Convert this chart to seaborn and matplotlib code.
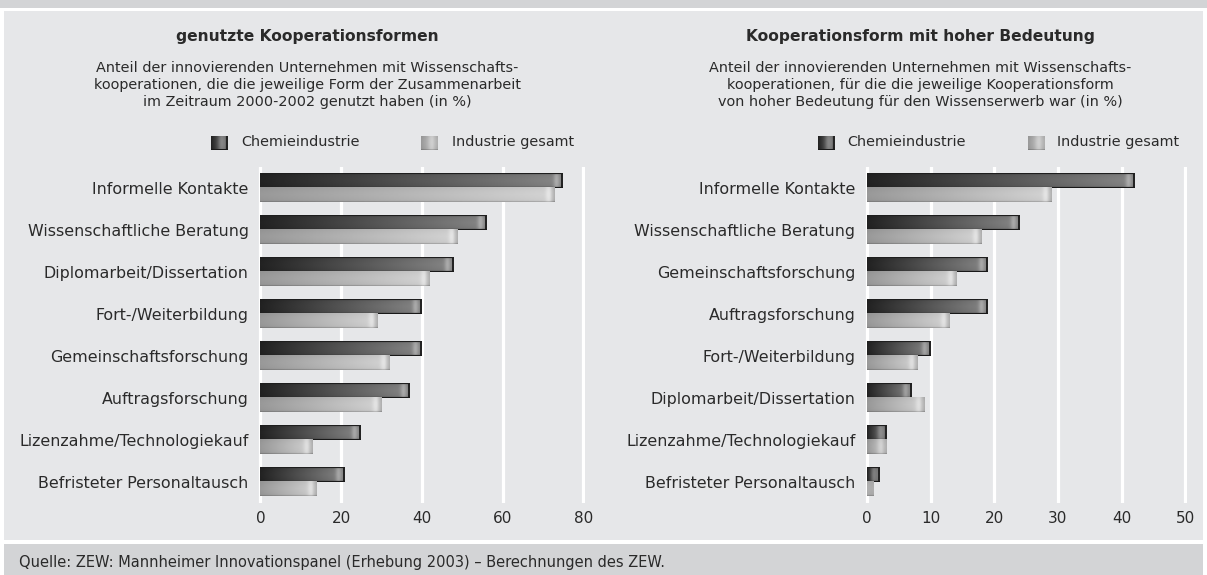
import numpy as np
import pandas as pd
import matplotlib
matplotlib.use("Agg")
import matplotlib.pyplot as plt
import seaborn as sns
from matplotlib.patches import Rectangle

# ---------------- data ----------------
series = ["Chemieindustrie", "Industrie gesamt"]

left_categories = [
    "Informelle Kontakte",
    "Wissenschaftliche Beratung",
    "Diplomarbeit/Dissertation",
    "Fort-/Weiterbildung",
    "Gemeinschaftsforschung",
    "Auftragsforschung",
    "Lizenzahme/Technologiekauf",
    "Befristeter Personaltausch",
]
left_chemie = [75, 56, 48, 40, 40, 37, 25, 21]
left_gesamt = [73, 49, 42, 29, 32, 30, 13, 14]
left_ticks = [0, 20, 40, 60, 80]

right_categories = [
    "Informelle Kontakte",
    "Wissenschaftliche Beratung",
    "Gemeinschaftsforschung",
    "Auftragsforschung",
    "Fort-/Weiterbildung",
    "Diplomarbeit/Dissertation",
    "Lizenzahme/Technologiekauf",
    "Befristeter Personaltausch",
]
right_chemie = [42, 24, 19, 19, 10, 7, 3, 2]
right_gesamt = [29, 18, 14, 13, 8, 9, 3, 1]
right_ticks = [0, 10, 20, 30, 40, 50]

left_title = "genutzte Kooperationsformen"
left_sub = ("Anteil der innovierenden Unternehmen mit Wissenschafts-\n"
            "kooperationen, die die jeweilige Form der Zusammenarbeit\n"
            "im Zeitraum 2000-2002 genutzt haben (in %)")
right_title = "Kooperationsform mit hoher Bedeutung"
right_sub = ("Anteil der innovierenden Unternehmen mit Wissenschafts-\n"
             "kooperationen, für die die jeweilige Kooperationsform\n"
             "von hoher Bedeutung für den Wissenserwerb war (in %)")
source = "Quelle: ZEW: Mannheimer Innovationspanel (Erhebung 2003) – Berechnungen des ZEW."

# ---------------- style ----------------
plt.rcParams["font.family"] = ["DejaVu Sans"]
TXT = "#2a2a2a"
PANEL = "#e6e7e9"
BAND = "#d3d4d6"

W, H = 1207, 575
fig = plt.figure(figsize=(W / 100, H / 100), dpi=100)
fig.patch.set_facecolor("white")


def px_rect(x, y, w, h):
    return [x / W, 1 - (y + h) / H, w / W, h / H]


# background bands
fig.patches.append(Rectangle((0, 1 - 8 / H), 1, 8 / H, transform=fig.transFigure,
                             facecolor=BAND, edgecolor="none", zorder=-10))
fig.patches.append(Rectangle((4 / W, 1 - 540 / H), 1199 / W, 529 / H, transform=fig.transFigure,
                             facecolor=PANEL, edgecolor="none", zorder=-10))
fig.patches.append(Rectangle((4 / W, 0), 1199 / W, 31 / H, transform=fig.transFigure,
                             facecolor=BAND, edgecolor="none", zorder=-10))


def dark_profile(wn, hn):
    xp = np.arange(wn) + 0.5
    t = xp / wn
    prof = 0.12 + 0.36 * t + 0.14 * np.exp(-((xp - (wn - 6.5)) / 3.0) ** 2)
    prof[-2:] = 0.13
    yp = (np.arange(hn) + 0.5) / hn
    vert = 1 + 0.10 * (1 - (2 * np.abs(yp - 0.5)) ** 2)
    arr = prof[None, :] * vert[:, None]
    arr[0, :] = 0.12
    arr[-1, :] = 0.10
    return np.clip(arr, 0, 1)


def light_profile(wn, hn):
    xp = np.arange(wn) + 0.5
    t = xp / wn
    prof = 0.57 + 0.22 * t + 0.07 * np.exp(-((xp - (wn - 6.5)) / 3.0) ** 2)
    edge = np.clip((wn - xp) / 5.0, 0, 1)
    prof = prof * (0.82 + 0.18 * edge)
    yp = (np.arange(hn) + 0.5) / hn
    vert = 1 + 0.05 * (1 - (2 * np.abs(yp - 0.5)) ** 2)
    arr = prof[None, :] * vert[:, None]
    arr[-1, :] = arr[-1, :] * 0.85
    return np.clip(arr, 0, 1)


def draw_panel(rect, cats, chem, ges, ticks, xlim):
    ax = fig.add_axes(rect)
    df = pd.DataFrame({
        "Kategorie": cats * 2,
        "Wert": chem + ges,
        "Reihe": [series[0]] * len(cats) + [series[1]] * len(cats),
    })
    sns.barplot(data=df, x="Wert", y="Kategorie", hue="Reihe", order=cats,
                hue_order=series, palette=["#3a3a3a", "#a8a8a8"], orient="h",
                width=0.69, dodge=True, legend=False, ax=ax, saturation=1,
                edgecolor="none", linewidth=0)
    ax.set_xlim(*xlim)
    ax.set_ylim(len(cats) - 0.5, -0.5)
    ax.set_facecolor("none")
    for s in ax.spines.values():
        s.set_visible(False)
    ax.set_xticks(ticks)
    ax.set_xticklabels([str(t) for t in ticks])
    ax.tick_params(axis="both", length=0, colors=TXT)
    ax.tick_params(axis="y", pad=7, labelsize=11.4)
    ax.tick_params(axis="x", pad=6, labelsize=11)
    ax.set_xlabel("")
    ax.set_ylabel("")
    ax.grid(axis="x", color="white", linewidth=2.3)
    ax.grid(axis="y", visible=False)
    ax.set_axisbelow(True)

    # gradient fill over every bar drawn by seaborn
    patches = [p for p in ax.patches if p.get_width() > 0]
    for p in patches:
        x0, y0 = p.get_x(), p.get_y()
        x1, y1 = x0 + p.get_width(), y0 + p.get_height()
        (px0, py0), (px1, py1) = ax.transData.transform([(x0, y0), (x1, y1)])
        wn = max(int(round(abs(px1 - px0))), 2)
        hn = max(int(round(abs(py1 - py0))), 2)
        fc = p.get_facecolor()
        is_dark = fc[0] < 0.5
        arr = dark_profile(wn, hn) if is_dark else light_profile(wn, hn)
        ax.imshow(arr, cmap="gray", vmin=0, vmax=1, aspect="auto",
                  extent=(x0, x1, max(y0, y1), min(y0, y1)),
                  interpolation="bilinear", zorder=2)
    ax.set_xlim(*xlim)
    ax.set_ylim(len(cats) - 0.5, -0.5)
    return ax


axL = draw_panel(px_rect(258.3, 167, 327, 336), left_categories, left_chemie,
                 left_gesamt, left_ticks, (-0.5, 80.5))
axR = draw_panel(px_rect(865.1, 167, 322, 336), right_categories, right_chemie,
                 right_gesamt, right_ticks, (-0.3, 50.3))

# titles and subtitles
for cx, title, sub in [(307, left_title, left_sub), (920, right_title, right_sub)]:
    fig.text(cx / W, 1 - 36 / H, title, ha="center", va="center",
             fontsize=11.2, fontweight="bold", color=TXT)
    fig.text(cx / W, 1 - 85 / H, sub, ha="center", va="center",
             fontsize=10.4, color=TXT, linespacing=1.3)


# legends
def legend_square(x, y, dark):
    lax = fig.add_axes(px_rect(x, y, 16.5, 15))
    lax.set_axis_off()
    arr = dark_profile(16, 15) if dark else light_profile(16, 15)
    lax.imshow(arr, cmap="gray", vmin=0, vmax=1, aspect="auto",
               interpolation="bilinear")


for (sx1, tx1, sx2, tx2) in [(211, 241.5, 421, 452), (818, 847, 1028, 1057)]:
    legend_square(sx1, 135.5, True)
    legend_square(sx2, 135.5, False)
    fig.text(tx1 / W, 1 - 142 / H, series[0], ha="left", va="center",
             fontsize=10.4, color=TXT)
    fig.text(tx2 / W, 1 - 142 / H, series[1], ha="left", va="center",
             fontsize=10.4, color=TXT)

fig.text(19 / W, 1 - 562 / H, source, ha="left", va="center",
         fontsize=10.5, color=TXT)

fig.savefig("out.png", dpi=100, facecolor=fig.get_facecolor())
